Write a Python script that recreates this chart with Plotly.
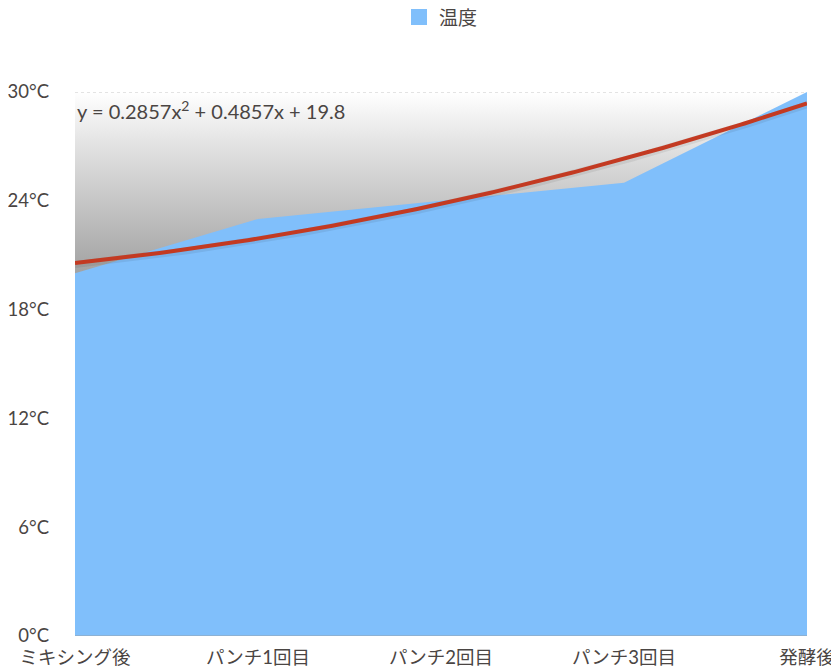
import numpy as np
import plotly.graph_objects as go

categories = ["ミキシング後", "パンチ1回目", "パンチ2回目", "パンチ3回目", "発酵後"]
temperature = [20, 23, 24, 25, 30]
y_tickvals = [0, 6, 12, 18, 24, 30]
y_ticktext = ["0°C", "6°C", "12°C", "18°C", "24°C", "30°C"]

x_idx = np.arange(1, len(categories) + 1)
coef = np.polyfit(x_idx, temperature, 2)
x_dense = np.linspace(1, len(categories), 200)
y_dense = np.polyval(coef, x_dense)
eq = f"y = {coef[0]:.4f}x<sup>2</sup> + {coef[1]:.4f}x + {coef[2]:.1f}"

FONT = "Lato, 'Noto Sans CJK JP', sans-serif"
TXT = "#4a4543"
BLUE = "#80bffb"

fig = go.Figure()
# background gradient
fig.add_trace(go.Scatter(
    x=x_idx, y=[30] * len(categories), mode="none",
    fill="tozeroy",
    fillgradient=dict(type="vertical", start=19, stop=30,
                      colorscale=[[0, "#999999"], [0.45, "#c6c6c6"], [0.75, "#e4e4e4"], [1, "#ffffff"]]),
    showlegend=False, hoverinfo="skip"))
fig.add_trace(go.Scatter(
    x=x_idx, y=temperature, name="温度", mode="none",
    fill="tozeroy", fillcolor=BLUE, showlegend=False))
# legend entry with square swatch
fig.add_trace(go.Scatter(x=[None], y=[None], name="温度", mode="markers",
                         marker=dict(symbol="square", size=18, color=BLUE)))
# soft shadow of trend line
fig.add_trace(go.Scatter(x=x_dense, y=y_dense - 0.08, mode="lines",
                         line=dict(color="rgba(0,0,0,0.07)", width=7),
                         showlegend=False, hoverinfo="skip"))
fig.add_trace(go.Scatter(x=x_dense, y=y_dense, mode="lines",
                         line=dict(color="#c33a22", width=4),
                         showlegend=False))

fig.add_shape(type="line", xref="paper", x0=0, x1=1, yref="y", y0=30, y1=30,
              line=dict(color="#c8c8c8", width=1, dash="dot"), layer="above")

fig.add_annotation(text=eq, xref="paper", x=0, yref="y", y=29.0, xanchor="left",
                   yanchor="middle", showarrow=False,
                   font=dict(family=FONT, size=20, color=TXT))

fig.update_layout(
    width=831, height=662,
    margin=dict(l=67, r=32, t=84, b=34),
    paper_bgcolor="white", plot_bgcolor="white",
    font=dict(family=FONT, size=19, color=TXT),
    legend=dict(orientation="h", x=0.5, xanchor="center", y=0.986, yanchor="middle",
                yref="container", font=dict(size=19)),
    xaxis=dict(range=[1, len(categories)], tickvals=list(x_idx), ticktext=categories,
               showgrid=False, zeroline=False, showline=False, ticks="",
               automargin=False, ticklabelstandoff=8, tickfont=dict(size=18.5)),
    yaxis=dict(range=[0, 30], tickvals=y_tickvals, ticktext=y_ticktext,
               showgrid=False, zeroline=False, showline=False, ticks="",
               automargin=False, ticklabelstandoff=25, tickfont=dict(size=18.5)),
)
fig.add_shape(type="line", xref="paper", x0=0, x1=1, yref="y", y0=0, y1=0,
              line=dict(color="#9aa3ab", width=1), layer="above")

fig.write_html("out.html")
